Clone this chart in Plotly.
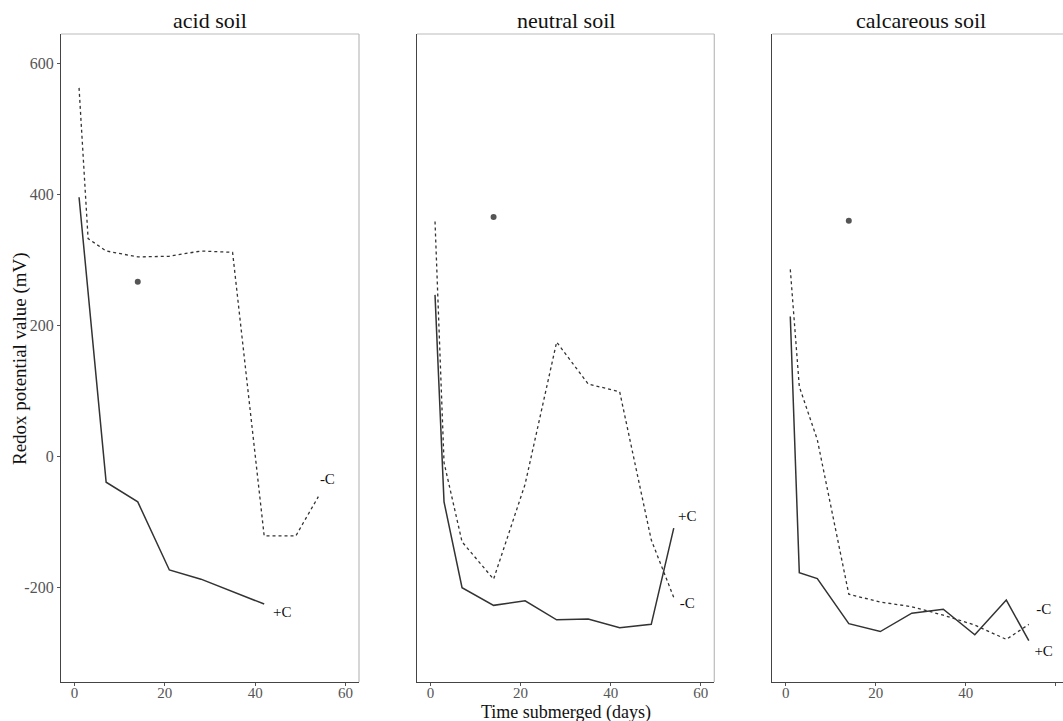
import plotly.graph_objects as go

# ---- data ----
panels = ["acid soil", "neutral soil", "calcareous soil"]

acid_plus_days = [1, 7, 14, 21, 28, 35, 42]
acid_plus_vals = [395, -40, -70, -174, -188, -207, -226]
acid_minus_days = [1, 3, 7, 14, 21, 28, 35, 42, 49, 54]
acid_minus_vals = [562, 332, 313, 304, 305, 313, 311, -122, -122, -62]

neutral_plus_days = [1, 3, 7, 14, 21, 28, 35, 42, 49, 54]
neutral_plus_vals = [246, -70, -201, -228, -221, -250, -249, -262, -257, -110]
neutral_minus_days = [1, 3, 7, 14, 21, 28, 35, 42, 49, 54]
neutral_minus_vals = [358, -10, -131, -188, -43, 174, 110, 98, -128, -216]

calc_plus_days = [1, 3, 7, 14, 21, 28, 35, 42, 49, 54]
calc_plus_vals = [213, -178, -187, -256, -268, -240, -234, -273, -220, -282]
calc_minus_days = [1, 3, 7, 14, 21, 28, 35, 42, 49, 54]
calc_minus_vals = [285, 106, 25, -211, -223, -230, -243, -258, -280, -257]

point_days = [14, 14, 14]
point_vals = [266, 365, 359]

label_text = [["-C", "+C"], ["+C", "-C"], ["-C", "+C"]]
label_days = [[56, 46], [57, 57], [57.3, 57.3]]
label_vals = [[-37, -240], [-93, -226], [-235, -300]]

x_ticks = [0, 20, 40, 60]
x_tick_labels = ["0", "20", "40", "60"]
y_ticks = [-200, 0, 200, 400, 600]
y_tick_labels = ["-200", "0", "200", "400", "600"]

plus_series = [(acid_plus_days, acid_plus_vals), (neutral_plus_days, neutral_plus_vals), (calc_plus_days, calc_plus_vals)]
minus_series = [(acid_minus_days, acid_minus_vals), (neutral_minus_days, neutral_minus_vals), (calc_minus_days, calc_minus_vals)]

# ---- layout geometry ----
W, H = 1063, 721
x_domains = [[61 / W, 359 / W], [417 / W, 714.3 / W], [772.3 / W, 1.0]]
x_ranges = [[-3, 63], [-3, 63], [-3, -3 + (W - 772.3) / 4.5]]
y_domain = [1 - 682 / H, 1 - 34 / H]
y_range = [-345, 644.3]

FONT = "Liberation Serif, Times New Roman, serif"
LINE = "#333333"

fig = go.Figure()

for i in range(3):
    xa = "x" if i == 0 else f"x{i+1}"
    ya = "y" if i == 0 else f"y{i+1}"
    d, v = minus_series[i]
    fig.add_trace(go.Scatter(x=d, y=v, mode="lines", xaxis=xa, yaxis=ya,
                             line=dict(color=LINE, width=1.3, dash="dot"), showlegend=False))
    d, v = plus_series[i]
    fig.add_trace(go.Scatter(x=d, y=v, mode="lines", xaxis=xa, yaxis=ya,
                             line=dict(color=LINE, width=1.5), showlegend=False))
    fig.add_trace(go.Scatter(x=[point_days[i]], y=[point_vals[i]], mode="markers", xaxis=xa, yaxis=ya,
                             marker=dict(color="#555555", size=6), showlegend=False))
    fig.add_trace(go.Scatter(x=label_days[i], y=label_vals[i], text=label_text[i], mode="text",
                             xaxis=xa, yaxis=ya, textfont=dict(family=FONT, size=15, color="#111111"),
                             showlegend=False, cliponaxis=False))

    axis_x = dict(domain=x_domains[i], range=x_ranges[i], tickvals=x_ticks, showgrid=False, zeroline=False,
                  showline=True, linecolor="#444444", linewidth=1.3, ticks="outside", ticklen=3,
                  tickcolor="#555555", showticklabels=False, anchor=ya)
    # overlay axis carrying the tick labels (no tick marks so labels sit closer to the axis)
    axis_xl = dict(domain=x_domains[i], range=x_ranges[i], tickvals=x_ticks, ticktext=x_tick_labels,
                   showgrid=False, zeroline=False,
                   showline=False, ticks="", overlaying=xa, anchor=ya, side="bottom",
                   tickfont=dict(family=FONT, size=15, color="#555555"))
    axis_y = dict(domain=y_domain, range=y_range, tickvals=y_ticks, ticktext=y_tick_labels,
                  showgrid=False, zeroline=False,
                  showline=True, linecolor="#444444", linewidth=1.3, anchor=xa,
                  ticks="outside" if i == 0 else "", ticklen=3, tickcolor="#555555",
                  showticklabels=(i == 0), tickfont=dict(family=FONT, size=16, color="#555555"))
    fig.layout["xaxis" if i == 0 else f"xaxis{i+1}"] = axis_x
    fig.layout[f"xaxis{i+4}"] = axis_xl
    fig.layout["yaxis" if i == 0 else f"yaxis{i+1}"] = axis_y
    # invisible trace so the overlay axis is drawn
    fig.add_trace(go.Scatter(x=[x_ticks[0]], y=[y_range[0]], mode="markers", xaxis=f"x{i+4}", yaxis=ya,
                             marker=dict(opacity=0, size=1), hoverinfo="skip", showlegend=False))

    # light gray panel border (top & right)
    xref_d = ("x" if i == 0 else f"x{i+1}") + " domain"
    yref_d = ("y" if i == 0 else f"y{i+1}") + " domain"
    fig.add_shape(type="line", xref=xref_d, yref=yref_d, x0=0, x1=1, y0=1, y1=1,
                  line=dict(color="#bbbbbb", width=1.2), layer="below")
    if i < 2:
        fig.add_shape(type="line", xref=xref_d, yref=yref_d, x0=1, x1=1, y0=0, y1=1,
                      line=dict(color="#bbbbbb", width=1.2), layer="below")

    # panel title
    cx = (x_domains[i][0] + (x_domains[i][0] + 298 / W)) / 2
    fig.add_annotation(text=panels[i], xref="paper", yref="paper", x=cx, y=1 - 21 / H,
                       showarrow=False, xanchor="center", yanchor="middle",
                       font=dict(family=FONT, size=22, color="#111111"))

# axis titles
fig.add_annotation(text="Time submerged (days)", xref="paper", yref="paper", x=566 / W, y=1 - 712.5 / H,
                   showarrow=False, xanchor="center", yanchor="middle",
                   font=dict(family=FONT, size=18, color="#111111"))
fig.add_annotation(text="Redox potential value (mV)", xref="paper", yref="paper", x=20 / W, y=1 - 359 / H,
                   showarrow=False, xanchor="center", yanchor="middle", textangle=-90,
                   font=dict(family=FONT, size=19, color="#111111"))

fig.update_layout(width=W, height=H, autosize=False, margin=dict(l=0, r=0, t=0, b=0),
                  paper_bgcolor="white", plot_bgcolor="white", font=dict(family=FONT))

fig.write_html("out.html")
